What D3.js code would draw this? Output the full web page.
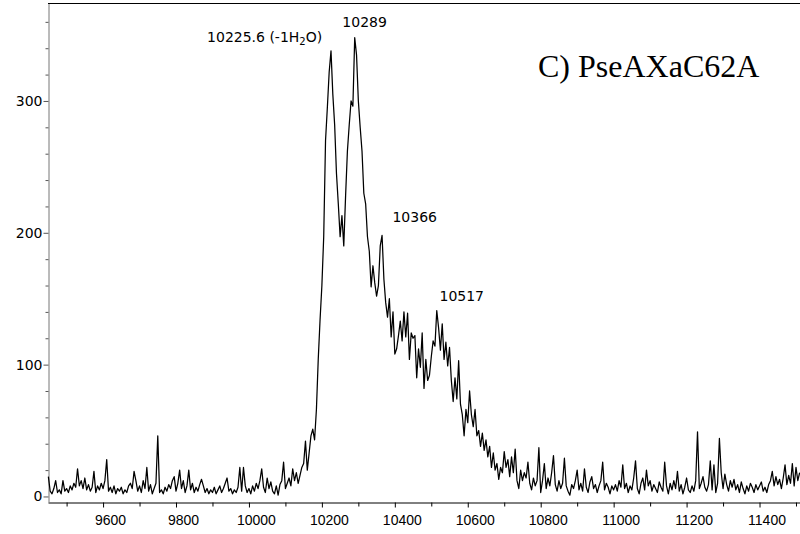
<!DOCTYPE html>
<html>
<head>
<meta charset="utf-8">
<script src="https://cdn.jsdelivr.net/npm/d3@7"></script>
<style>
  body { margin: 0; background: #fff; }
  svg { display: block; }
  .tick text { fill: #000; }
</style>
</head>
<body>
<div class="svg-container"></div>
<script>
// spectrum sampled every 5 Da starting at 9450 Da
const massStart = 9450;
const massStep = 5;
const intensity = [
  15,4,2,6,12,3,5,2,12,4, 6,3,8,5,10,7,21,8,12,6,
  14,5,9,4,7,19,3,8,5,10, 6,12,28,4,7,3,8,2,6,4,
  7,2,5,3,8,10,6,19,12,4, 8,3,12,6,22,4,9,2,6,10,
  46,3,5,2,7,4,9,6,12,15, 4,10,20,6,12,3,8,20,5,10,
  3,7,4,9,13,8,3,6,2,5, 3,7,2,5,8,3,6,10,14,4,
  6,2,5,3,7,22,4,22,8,3, 6,2,8,4,10,6,12,21,7,3,
  14,6,11,4,2,8,1,9,12,26, 6,10,14,8,21,12,18,10,16,22,
  25,42,20,33,46,51,43,66,104,134, 160,197,270,295,322,338,305,282,245,222,
  197,213,190,228,262,282,300,296,348,335, 300,280,262,230,222,197,186,159,175,162,
  152,160,190,198,165,147,136,150,121,140, 108,112,122,133,118,140,121,139,104,124,
  120,122,90,112,98,124,82,104,88,92, 106,118,114,141,128,111,131,104,117,99,
  113,88,72,90,74,103,70,62,46,66, 56,80,62,53,66,46,50,38,48,35,
  43,30,38,22,33,20,25,13,22,18, 34,22,28,15,30,18,36,12,6,20,
  12,18,14,26,10,5,14,8,12,37, 3,12,25,6,14,8,18,31,9,4,
  12,6,10,29,8,4,1,9,6,12, 20,5,10,4,21,7,3,11,15,6,
  9,3,8,12,26,5,10,7,2,8, 5,9,4,12,7,24,6,10,3,8,
  5,14,27,6,2,10,14,5,20,8, 12,4,9,6,3,11,7,4,26,8,
  2,10,5,12,6,19,4,9,2,7, 14,5,3,8,4,12,49,6,10,15,
  7,4,9,27,5,24,3,10,44,18, 6,17,9,4,12,7,13,5,9,3,
  11,6,2,8,4,10,7,3,9,5, 8,11,4,7,3,9,12,19,8,15,
  9,13,6,14,24,9,16,10,25,8,22,12,18
];

const xTicks = [9600, 9800, 10000, 10200, 10400, 10600, 10800, 11000, 11200, 11400];
const yTicks = [0, 100, 200, 300];

const peakLabels = ["10225.6", "10289", "10366", "10517"];
const peakMass = [10225.6, 10289, 10366, 10517];
const peakHeight = [338, 349, 198, 141];

const panelTitle = "C) PseAXaC62A";

let width = 800, height = 534;

let svg = d3.select(".svg-container").append("svg")
  .attr("width", width)
  .attr("height", height);

let x = d3.scaleLinear().domain([9449, 11511]).range([48, 800]);
let y = d3.scaleLinear().domain([-4.2, 374.3]).range([502, 3]);

let data = intensity.map((v, i) => ({ mass: massStart + i * massStep, value: v }));

// minor ticks every 100 on x, every 20 on y
let xMinor = d3.range(9500, 11501, 100).filter(m => xTicks.indexOf(m) < 0);
let yMinor = d3.range(20, 374, 20).filter(v => yTicks.indexOf(v) < 0);

// x axis
svg.append("g")
  .attr("transform", "translate(0,502.5)")
  .call(d3.axisBottom(x).tickValues(xMinor).tickSize(4).tickSizeOuter(0).tickFormat(""))
  .call(g => g.select(".domain").attr("stroke", "#000"));

let xAx = svg.append("g")
  .attr("transform", "translate(0,502.5)")
  .call(d3.axisBottom(x).tickValues(xTicks).tickSize(5).tickSizeOuter(0).tickFormat(d3.format("d")));
xAx.select(".domain").remove();
xAx.selectAll("text")
  .attr("dx", 7)
  .attr("dy", "1.05em")
  .style("font-family", "'Liberation Sans', Arial, sans-serif")
  .style("font-size", "14px");

// y axis
svg.append("g")
  .attr("transform", "translate(48.5,0)")
  .call(d3.axisLeft(y).tickValues(yMinor).tickSize(3).tickSizeOuter(0).tickFormat(""))
  .call(g => g.select(".domain").attr("stroke", "#777"))
  .call(g => g.selectAll(".tick line").attr("stroke", "#555"));

let yAx = svg.append("g")
  .attr("transform", "translate(48.5,0)")
  .call(d3.axisLeft(y).tickValues(yTicks).tickSize(5).tickSizeOuter(0).tickPadding(1));
yAx.select(".domain").remove();
yAx.selectAll(".tick line").attr("stroke", "#555");
yAx.selectAll("text")
  .style("font-family", "'DejaVu Sans', Verdana, sans-serif")
  .style("font-size", "14px");

// top frame line
svg.append("line")
  .attr("x1", 48).attr("x2", 800)
  .attr("y1", 3.5).attr("y2", 3.5)
  .attr("stroke", "#000");

// spectrum
let line = d3.line()
  .x(d => x(d.mass))
  .y(d => y(d.value));

svg.append("path")
  .datum(data)
  .attr("fill", "none")
  .attr("stroke", "#000")
  .attr("stroke-width", 1.25)
  .attr("stroke-linejoin", "round")
  .attr("d", line);

// peak labels: [dx, dy, anchor] from the peak top
let labelOffsets = [[-9, -9, "end"], [-12, -9, "start"], [10, -13, "start"], [2, -10, "start"]];
let labels = svg.append("g")
  .style("font-family", "'DejaVu Sans', Verdana, sans-serif")
  .style("font-size", "14px");

peakLabels.forEach((t, i) => {
  let o = labelOffsets[i];
  let txt = labels.append("text")
    .attr("x", x(peakMass[i]) + o[0])
    .attr("y", y(peakHeight[i]) + o[1])
    .attr("text-anchor", o[2]);
  if (i === 0) {
    txt.append("tspan").text(t + " (-1H");
    txt.append("tspan").attr("dy", 3).style("font-size", "10px").text("2");
    txt.append("tspan").attr("dy", -3).text("O)");
  } else {
    txt.text(t);
  }
});

// panel title
svg.append("text")
  .attr("x", 538)
  .attr("y", 77)
  .style("font-family", "'Liberation Serif', 'Times New Roman', serif")
  .style("font-size", "32px")
  .text(panelTitle);
</script>
</body>
</html>
